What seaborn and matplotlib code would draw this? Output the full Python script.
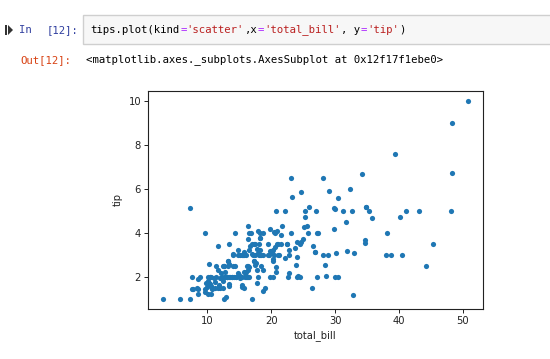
import matplotlib
matplotlib.use("Agg")
import matplotlib.pyplot as plt
import matplotlib.patches as mpatches
import seaborn as sns
import pandas as pd

total_bill = [
    16.99, 10.34, 21.01, 23.68, 24.59, 25.29, 8.77, 26.88, 15.04, 14.78,
    10.27, 35.26, 15.42, 18.43, 14.83, 21.58, 10.33, 16.29, 16.97, 20.65,
    17.92, 20.29, 15.77, 39.42, 19.82, 17.81, 13.37, 12.69, 21.70, 19.65,
    9.55, 18.35, 15.06, 20.69, 17.78, 24.06, 16.31, 16.93, 18.69, 31.27,
    16.04, 17.46, 13.94, 9.68, 30.40, 18.29, 22.23, 32.40, 28.55, 18.04,
    12.54, 10.29, 34.81, 9.94, 25.56, 19.49, 38.01, 26.41, 11.24, 48.27,
    20.29, 13.81, 11.02, 18.29, 17.59, 20.08, 16.45, 3.07, 20.23, 15.01,
    12.02, 17.07, 26.86, 25.28, 14.73, 10.51, 17.92, 27.20, 22.76, 17.29,
    19.44, 16.66, 10.07, 32.68, 15.98, 34.83, 13.03, 18.28, 24.71, 21.16,
    28.97, 22.49, 5.75, 16.32, 22.75, 40.17, 27.28, 12.03, 21.01, 12.46,
    11.35, 15.38, 44.30, 22.42, 20.92, 15.36, 20.49, 25.21, 18.24, 14.31,
    14.00, 7.25, 38.07, 23.95, 25.71, 17.31, 29.93, 10.65, 12.43, 24.08,
    11.69, 13.42, 14.26, 15.95, 12.48, 29.80, 8.52, 14.52, 11.38, 22.82,
    19.08, 20.27, 11.17, 12.26, 18.26, 8.51, 10.33, 14.15, 16.00, 13.16,
    17.47, 34.30, 41.19, 27.05, 16.43, 8.35, 18.64, 11.87, 9.78, 7.51,
    14.07, 13.13, 17.26, 24.55, 19.77, 29.85, 48.17, 25.00, 13.39, 16.49,
    21.50, 12.66, 16.21, 13.81, 17.51, 24.52, 20.76, 31.71, 10.59, 10.63,
    50.81, 15.81, 7.25, 31.85, 16.82, 32.90, 17.89, 14.48, 9.60, 34.63,
    34.65, 23.33, 45.35, 23.17, 40.55, 20.69, 20.90, 30.46, 18.15, 23.10,
    15.69, 19.81, 28.44, 15.48, 16.58, 7.56, 10.34, 43.11, 13.00, 13.51,
    18.71, 12.74, 13.00, 16.40, 20.53, 16.47, 26.59, 38.73, 24.27, 12.76,
    30.06, 25.89, 48.33, 13.27, 28.17, 12.90, 28.15, 11.59, 7.74, 30.14,
    12.16, 13.42, 8.58, 15.98, 13.42, 16.27, 10.09, 20.45, 13.28, 22.12,
    24.01, 15.69, 11.61, 10.77, 15.53, 10.07, 12.60, 32.83, 35.83, 29.03,
    27.18, 22.67, 17.82, 18.78,
]

tip = [
    1.01, 1.66, 3.50, 3.31, 3.61, 4.71, 2.00, 3.12, 1.96, 3.23,
    1.71, 5.00, 1.57, 3.00, 3.02, 3.92, 1.67, 3.71, 3.50, 3.35,
    4.08, 2.75, 2.23, 7.58, 3.18, 2.34, 2.00, 2.00, 4.30, 3.00,
    1.45, 2.50, 3.00, 2.45, 3.27, 3.60, 2.00, 3.07, 2.31, 5.00,
    2.24, 2.54, 3.06, 1.32, 5.60, 3.00, 5.00, 6.00, 2.05, 3.00,
    2.50, 2.60, 5.20, 1.56, 4.34, 3.51, 3.00, 1.50, 1.76, 6.73,
    3.21, 2.00, 1.98, 3.76, 2.64, 3.15, 2.47, 1.00, 2.01, 2.09,
    1.97, 3.00, 3.14, 5.00, 2.20, 1.25, 3.08, 4.00, 3.00, 2.71,
    3.00, 3.40, 1.83, 5.00, 2.03, 5.17, 2.00, 4.00, 5.85, 3.00,
    3.00, 3.50, 1.00, 4.30, 3.25, 4.73, 4.00, 1.50, 3.00, 1.50,
    2.50, 3.00, 2.50, 3.48, 4.08, 1.64, 4.06, 4.29, 3.76, 4.00,
    3.00, 1.00, 4.00, 2.55, 4.00, 3.50, 5.07, 1.50, 1.80, 2.92,
    2.31, 1.68, 2.50, 2.00, 2.52, 4.20, 1.48, 2.00, 2.00, 2.18,
    1.50, 2.83, 1.50, 2.00, 3.25, 1.25, 2.00, 2.00, 2.00, 2.75,
    3.50, 6.70, 5.00, 5.00, 2.30, 1.50, 1.36, 1.63, 1.73, 2.00,
    2.50, 2.00, 2.74, 2.00, 2.00, 5.14, 5.00, 3.75, 2.61, 2.00,
    3.50, 2.50, 2.00, 2.00, 3.00, 3.48, 2.24, 4.50, 1.61, 2.00,
    10.00, 3.16, 5.15, 3.18, 4.00, 3.11, 2.00, 2.00, 4.00, 3.55,
    3.68, 5.65, 3.50, 6.50, 3.00, 5.00, 3.50, 2.00, 3.50, 4.00,
    1.50, 4.19, 2.56, 2.02, 4.00, 1.44, 2.00, 5.00, 2.00, 2.00,
    4.00, 2.01, 2.00, 2.50, 4.00, 3.23, 3.41, 3.00, 2.03, 2.23,
    2.00, 5.16, 9.00, 2.50, 6.50, 1.10, 3.00, 1.50, 1.44, 3.09,
    2.20, 3.48, 1.92, 3.00, 1.58, 2.50, 2.00, 3.00, 2.72, 2.88,
    2.00, 3.00, 3.39, 1.47, 3.00, 1.25, 1.00, 1.17, 4.67, 5.92,
    2.00, 2.00, 1.75, 3.00,
]

x_ticks = [10, 20, 30, 40, 50]
y_ticks = [2, 4, 6, 8, 10]

code_segments = [
    ("tips.plot(kind", "#000000"), ("=", "#AA22FF"), ("'scatter'", "#BA2121"),
    (",x", "#000000"), ("=", "#AA22FF"), ("'total_bill'", "#BA2121"),
    (", y", "#000000"), ("=", "#AA22FF"), ("'tip'", "#BA2121"), (")", "#000000"),
]
out_text = "<matplotlib.axes._subplots.AxesSubplot at 0x12f17f1ebe0>"

W, H = 550, 359
DPI = 100
fig = plt.figure(figsize=(W / DPI, H / DPI), dpi=DPI)
fig.patch.set_facecolor("white")


def P(x, y):
    return (x / W, 1 - y / H)


# notebook cell chrome
box_x0, box_y0, box_y1 = 83, 15, 44
fig.patches.append(mpatches.Rectangle(P(box_x0, box_y1), (W - box_x0 + 5) / W, (box_y1 - box_y0) / H,
                                      transform=fig.transFigure, facecolor="#f7f7f7",
                                      edgecolor="#cfcfcf", linewidth=1.0))
# run icon
fig.patches.append(mpatches.Rectangle(P(5, 35), 2 / W, 10 / H, transform=fig.transFigure,
                                      facecolor="#333333", edgecolor="none"))
fig.patches.append(mpatches.Polygon([P(8, 25), P(8, 35), P(13, 30)], closed=True,
                                    transform=fig.transFigure, facecolor="#333333",
                                    edgecolor="none"))

mono = "DejaVu Sans Mono"
fs = 7.7
cw = 0.602 * fs * DPI / 72.0

fig.text(*P(19, 30), "In", color="#303F9F", family=mono, fontsize=fs, va="center", ha="left")
fig.text(*P(47, 30), "[12]:", color="#303F9F", family=mono, fontsize=fs, va="center", ha="left")

cx = 90
for seg, col in code_segments:
    fig.text(*P(cx, 30), seg, color=col, family=mono, fontsize=fs, va="center", ha="left")
    cx += cw * len(seg)

fig.text(*P(20, 60), "Out[12]:", color="#D84315", family=mono, fontsize=fs, va="center", ha="left")
fig.text(*P(86, 60), out_text, color="#000000", family=mono, fontsize=fs, va="center", ha="left")

# chart
ax = fig.add_axes([148 / W, 1 - 309 / H, (483 - 148) / W, (309 - 91) / H])
df = pd.DataFrame({"total_bill": total_bill, "tip": tip})
sns.scatterplot(data=df, x="total_bill", y="tip", ax=ax, color="#1f77b4",
                s=14, linewidth=0, alpha=1.0)
ax.set_xticks(x_ticks)
ax.set_yticks(y_ticks)
ax.tick_params(labelsize=7.2, length=3, width=0.7, colors="#222222", pad=2)
ax.set_xlabel("total_bill", fontsize=7.2, color="#222222", labelpad=3)
ax.set_ylabel("tip", fontsize=7.2, color="#222222", labelpad=4)
for s in ax.spines.values():
    s.set_linewidth(0.8)
    s.set_color("#222222")

fig.savefig("out.png", dpi=DPI)
